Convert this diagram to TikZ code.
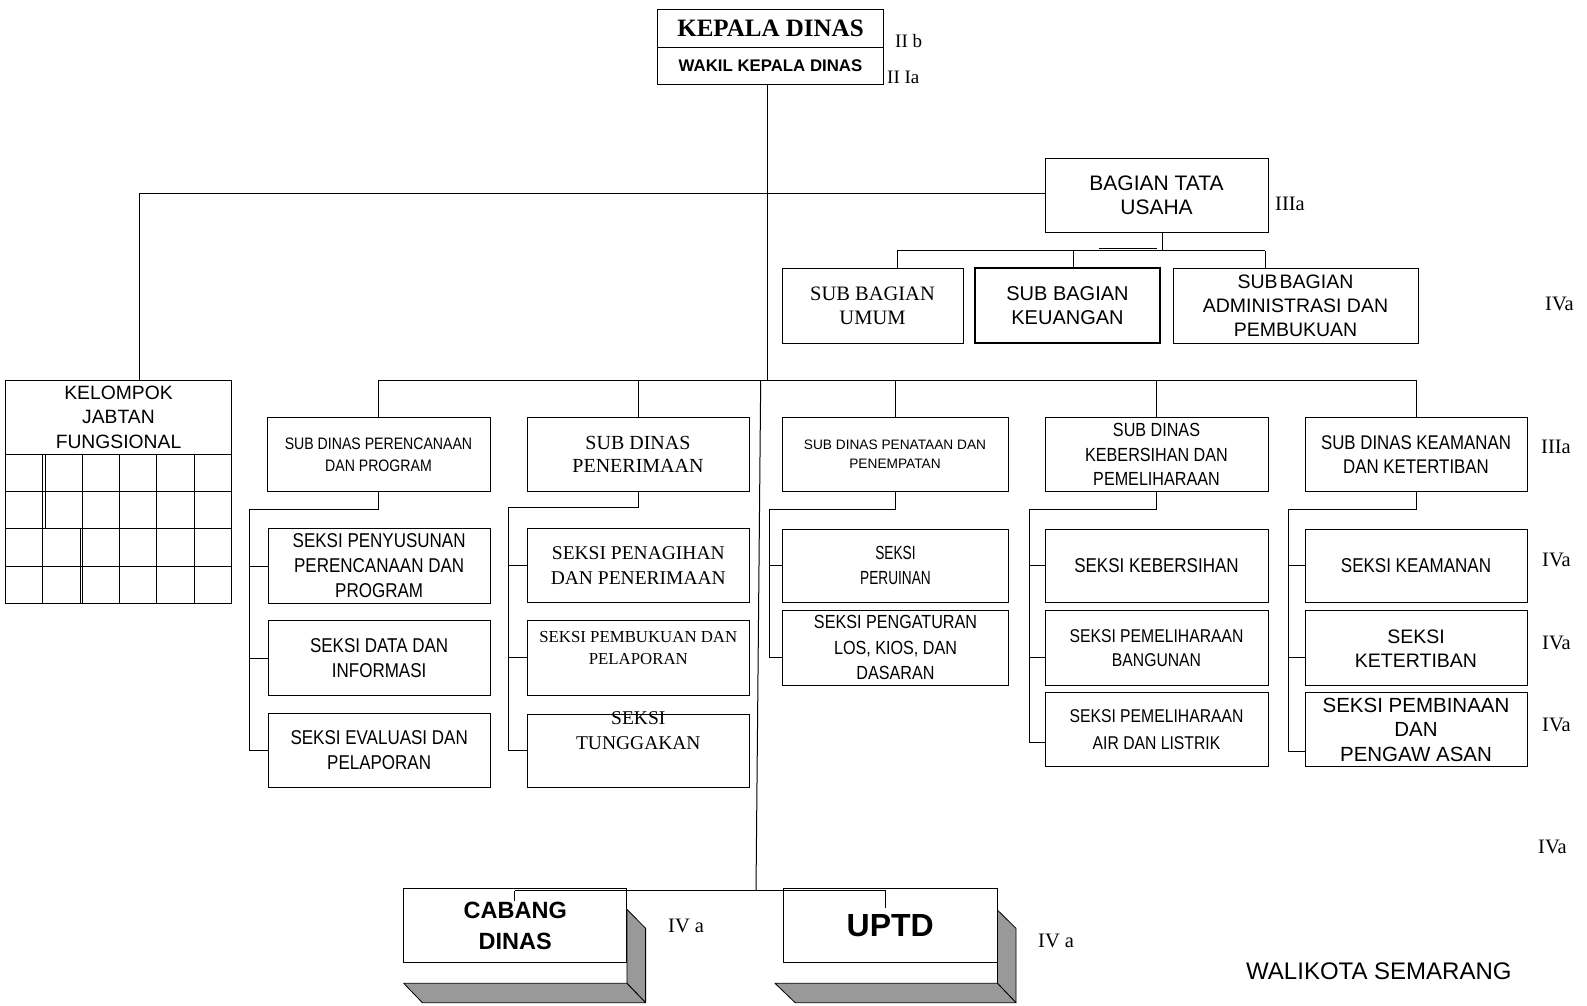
\documentclass[tikz,border=0pt]{standalone}
\usepackage{fontspec}
\setmainfont{Liberation Serif}
\newfontfamily\arialf{Liberation Sans}
\newfontfamily\narrowf[FakeStretch=0.85]{Liberation Sans}
\newfontfamily\squishf[FakeStretch=0.72]{Liberation Sans}
\newcommand\fsz[2]{\fontsize{#1}{#2}\selectfont}
\newcommand\bx[7][]{\node[box,#1,minimum width={(#5)-(#3)},minimum height={(#6)-(#4)}] (#2) at ({((#3)+(#5))/2},{((#4)+(#6))/2}) {#7};}
\begin{document}
\begin{tikzpicture}[x=1pt,y=-1pt,
  box/.style={draw, line width=1pt, inner sep=0pt, align=center},
  conn/.style={line width=1pt},
  lbl/.style={font=\fsz{20.5}{24}\rmfamily, anchor=base west, inner sep=0pt},
  face/.style={fill=black!40, draw=black, line width=0.8pt, line join=round}]
\fill[white] (0,0) rectangle (1587,1005);
\useasboundingbox (0,0) rectangle (1587,1005);

% top
\bx[font=\fsz{25}{28}\bfseries]{kd}{657.3}{9.3}{883.7}{47.7}{KEPALA DINAS}
\bx[font=\fsz{16.8}{19}\arialf\bfseries]{wkd}{657.3}{47.7}{883.7}{84}{WAKIL KEPALA DINAS}
\node[lbl,font=\fsz{19}{22}\rmfamily] (l1) at (895,47.7) {II b};
\node[lbl,font=\fsz{19}{22}\rmfamily] (l2) at (887,83.3) {II Ia};

% bagian tata usaha
\bx[font=\fsz{21}{24}\arialf]{tu}{1045}{158}{1268}{232}{BAGIAN TATA\\USAHA}
\node[lbl] (l3) at (1275,210) {IIIa};
\bx[font=\fsz{20.5}{24.3}\rmfamily]{sb1}{782}{268}{963}{343}{SUB BAGIAN\\UMUM}
\bx[font=\fsz{20}{24.3}\arialf,line width=2pt]{sb2}{975}{268}{1160}{343}{SUB BAGIAN\\KEUANGAN}
\bx[font=\fsz{19.5}{23.8}\arialf]{sb3}{1173}{268}{1418}{343}{SUB\hspace{2pt}BAGIAN\\ADMINISTRASI DAN\\PEMBUKUAN}
\node[lbl] (l4) at (1545,310) {IVa};

% kelompok
\bx[font=\fsz{19.3}{24.2}\arialf]{kel}{5.7}{380}{231.3}{454.3}{KELOMPOK\\JABTAN\\FUNGSIONAL}
\draw[line width=1pt] (kel.south west) rectangle (231.3,603.3);
\foreach \y in {491.7,528.7,566} \draw[line width=1pt] (5.7,\y) -- (231.3,\y);
\foreach \x in {42.7,82.3,119.3,156.3,194.3} \draw[line width=1pt] (\x,454.3) -- (\x,603.3);
\draw[line width=0.9pt] (45,454.3) -- (45,528.7);
\draw[line width=0.9pt] (80,528.7) -- (80,603.3);

% sub dinas
\bx[font=\fsz{16.6}{21.6}\narrowf]{sd1}{267}{417.3}{490}{491.7}{SUB DINAS PERENCANAAN\\DAN PROGRAM}
\bx[font=\fsz{20}{22.3}\rmfamily]{sd2}{527}{417.3}{749}{491.7}{SUB DINAS\\PENERIMAAN}
\bx[font=\fsz{13.7}{19.2}\arialf]{sd3}{782}{417.3}{1008}{491.7}{SUB DINAS PENATAAN DAN\\PENEMPATAN}
\bx[font=\fsz{19}{24.3}\narrowf]{sd4}{1045}{417.3}{1268}{491.7}{SUB DINAS\\KEBERSIHAN DAN\\PEMELIHARAAN}
\bx[font=\fsz{19.8}{23.2}\narrowf]{sd5}{1305}{417.3}{1527}{491.7}{SUB DINAS KEAMANAN\\DAN KETERTIBAN}
\node[lbl] (l5) at (1541,453) {IIIa};

% seksi col 1
\bx[font=\fsz{20}{25}\narrowf]{s11}{268}{528.7}{490.3}{603.3}{SEKSI PENYUSUNAN\\PERENCANAAN DAN\\PROGRAM}
\bx[font=\fsz{20}{25.7}\narrowf]{s12}{268}{620.7}{490.3}{695.7}{SEKSI DATA DAN\\INFORMASI}
\bx[font=\fsz{20}{25}\narrowf]{s13}{268}{713}{490.3}{787}{SEKSI EVALUASI DAN\\PELAPORAN}
% seksi col 2
\bx[font=\fsz{19.5}{25.3}\rmfamily]{s21}{527.3}{528.7}{749.3}{602.3}{SEKSI PENAGIHAN\\DAN PENERIMAAN}
\bx{s22}{527.3}{620.7}{749.3}{695}{}
\node[font=\fsz{16.8}{21.4}\rmfamily,align=center,inner sep=0pt,yshift=9.85pt] (s22t) at (s22.center) {SEKSI PEMBUKUAN DAN\\PELAPORAN};
\bx{s23}{527.3}{714}{749.3}{787}{}
\node[font=\fsz{19.5}{25}\rmfamily,align=center,inner sep=0pt,yshift=19.7pt] (s23t) at (s23.center) {SEKSI\\TUNGGAKAN};
% seksi col 3
\bx[font=\fsz{19}{25}\squishf]{s31}{782.7}{529}{1008.3}{602.7}{SEKSI\\PERUINAN}
\bx[font=\fsz{19}{25.3}\narrowf]{s32}{782.7}{610}{1008.3}{685}{SEKSI PENGATURAN\\LOS, KIOS, DAN\\DASARAN}
% seksi col 4
\bx[font=\fsz{20}{24}\narrowf]{s41}{1045}{529}{1268}{602.7}{SEKSI KEBERSIHAN}
\bx[font=\fsz{18.5}{24}\narrowf]{s42}{1045}{610.7}{1268}{685.7}{SEKSI PEMELIHARAAN\\BANGUNAN}
\bx[font=\fsz{18.5}{26.7}\narrowf]{s43}{1045}{692.7}{1268}{766.7}{SEKSI PEMELIHARAAN\\AIR DAN LISTRIK}
% seksi col 5
\bx[font=\fsz{20}{24}\narrowf]{s51}{1305}{529}{1527}{602.7}{SEKSI KEAMANAN}
\bx[font=\fsz{19.5}{24}\arialf]{s52}{1305}{610.7}{1527}{685.7}{SEKSI\\KETERTIBAN}
\bx[font=\fsz{20.5}{24.7}\arialf]{s53}{1305}{692.7}{1527}{766.7}{SEKSI PEMBINAAN\\DAN\\PENGAW ASAN}
\node[lbl] (l6) at (1542,566.7) {IVa};
\node[lbl] (l7) at (1542,649) {IVa};
\node[lbl] (l8) at (1542,731) {IVa};
\node[lbl] (l9) at (1538,853) {IVa};

% bottom 3D boxes
\draw[face] (626.9,909.3) -- (645.6,928.3) -- (645.6,1002.7) -- (626.9,983.3) -- cycle;
\draw[face] (403.7,983.3) -- (626.9,983.3) -- (645.6,1002.7) -- (422.4,1002.7) -- cycle;
\draw[face] (997.4,910) -- (1016,928.3) -- (1016,1002.7) -- (997.4,983.3) -- cycle;
\draw[face] (775,983.3) -- (997.4,983.3) -- (1016,1002.7) -- (795.2,1002.7) -- cycle;
\bx[font=\fsz{23.5}{31}\arialf\bfseries,line width=0.9pt]{cab}{403.7}{888.3}{626.9}{962.7}{CABANG\\DINAS}
\bx[font=\fsz{32}{36}\arialf\bfseries,line width=0.9pt]{uptd}{783.1}{888.3}{997.4}{962.7}{UPTD}
\node[lbl] (l10) at (668,932) {IV a};
\node[lbl] (l11) at (1038,947) {IV a};
\node[font=\fsz{24}{28}\arialf, anchor=base west, inner sep=0pt] (wk) at (1246,979) {WALIKOTA SEMARANG};

% connectors
\coordinate (jA) at (767.7,380);
\draw[conn] (wkd.south -| jA) -- (jA);
\coordinate (jK) at (139,193);
\draw[conn] (kel.north -| jK) -- (jK) -- (jK -| tu.west);
\coordinate (jT) at (1162,250.5);
\coordinate (jT1) at (897,250.5);
\coordinate (jT2) at (1073,250.5);
\coordinate (jT3) at (1265,250.5);
\draw[conn] (tu.south -| jT) -- (jT);
\draw[conn] (jT1) -- (jT3);
\draw[conn] (jT1) -- (jT1 |- sb1.north);
\draw[conn] (jT2) -- (jT2 |- sb2.north);
\draw[conn] (jT3) -- (jT3 |- sb3.north);
\coordinate (jX1) at (1099,248.5);
\coordinate (jX2) at (1157,248.5);
\draw[conn] (jX1) -- (jX2);

\draw[conn] (sd1.north |- jA) -- (sd5.north |- jA);
\foreach \n in {sd1,sd2,sd3,sd4,sd5} \draw[conn] (\n.north |- jA) -- (\n.north);

\coordinate (jS) at (760.7,380);
\coordinate (jB) at (756,890.7);
\draw[conn] (jS) -- (jB);
\coordinate (jB1) at (514.8,890.7);
\coordinate (jB2) at (885.8,890.7);
\coordinate (jB1e) at (514.8,900.7);
\coordinate (jB2e) at (885.8,908.3);
\draw[conn] (jB1) -- (jB2);
\draw[conn] (jB1) -- (jB1e);
\draw[conn] (jB2) -- (jB2e);

% branch col 1
\coordinate (b1) at (249,509.3);
\draw[conn] (sd1.south) -- (sd1.south |- b1) -- (b1) -- (b1 |- s13.west);
\foreach \n in {s11,s12,s13} \draw[conn] (b1 |- \n.west) -- (\n.west);
% branch col 2
\coordinate (b2) at (508.3,507.3);
\draw[conn] (sd2.south) -- (sd2.south |- b2) -- (b2) -- (b2 |- s23.west);
\foreach \n in {s21,s22,s23} \draw[conn] (b2 |- \n.west) -- (\n.west);
% branch col 3
\coordinate (b3) at (769,509);
\coordinate (t32) at (769,657.3);
\draw[conn] (sd3.south) -- (sd3.south |- b3) -- (b3) -- (t32);
\draw[conn] (b3 |- s31.west) -- (s31.west);
\draw[conn] (t32) -- (t32 -| s32.west);
% branch col 4
\coordinate (b4) at (1029,509);
\coordinate (t42) at (1029,657.7);
\coordinate (t43) at (1029,742.3);
\draw[conn] (sd4.south) -- (sd4.south |- b4) -- (b4) -- (t43);
\draw[conn] (b4 |- s41.west) -- (s41.west);
\draw[conn] (t42) -- (t42 -| s42.west);
\draw[conn] (t43) -- (t43 -| s43.west);
% branch col 5
\coordinate (b5) at (1288,509);
\coordinate (t52) at (1288,657.7);
\coordinate (t53) at (1288,751.7);
\draw[conn] (sd5.south) -- (sd5.south |- b5) -- (b5) -- (t53);
\draw[conn] (b5 |- s51.west) -- (s51.west);
\draw[conn] (t52) -- (t52 -| s52.west);
\draw[conn] (t53) -- (t53 -| s53.west);
\end{tikzpicture}
\end{document}
